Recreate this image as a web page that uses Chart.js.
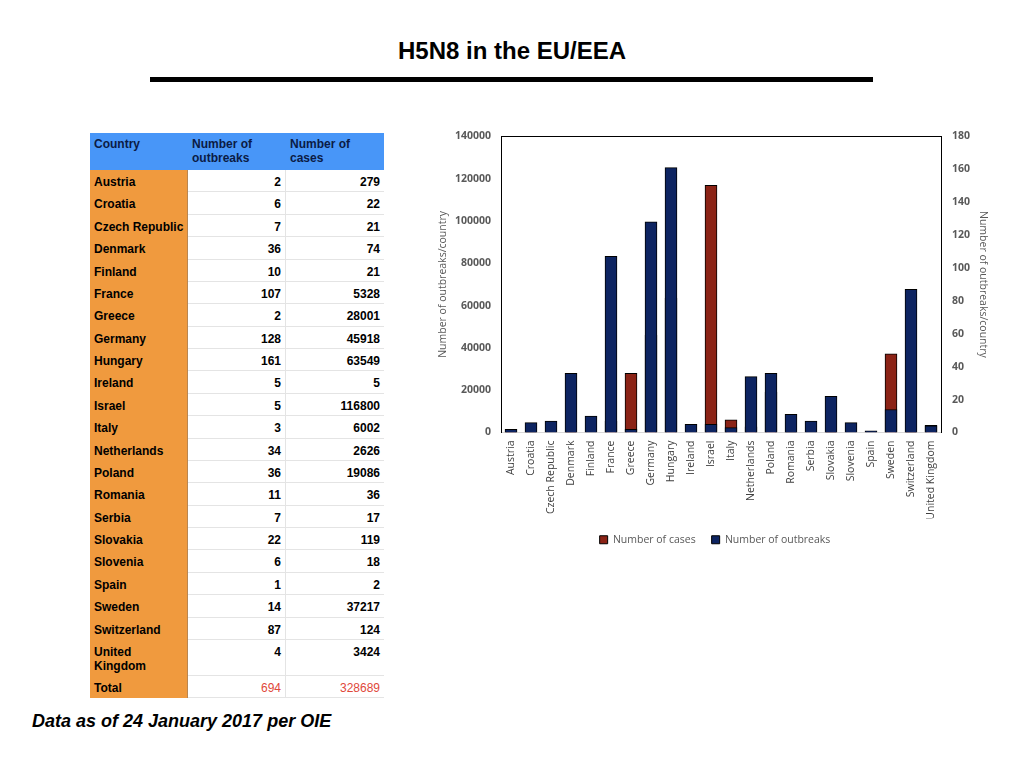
<!DOCTYPE html>
<html>
<head>
<meta charset="utf-8">
<script src="https://cdn.jsdelivr.net/npm/chart.js@4"></script>
<style>
  body { margin: 0; width: 1024px; height: 768px; background: #fff; position: relative; overflow: hidden; font-family: "Liberation Sans", Arial, sans-serif; }
  #title { position: absolute; left: 0; width: 1024px; top: 37px; text-align: center; font-weight: bold; font-size: 24px; color: #000; }
  #rule { position: absolute; left: 150px; top: 77px; width: 723px; height: 4.5px; background: #000; }
  #tbl { position: absolute; left: 90px; top: 133px; display: grid; grid-template-columns: 98px 98px 98px;
         grid-template-rows: 37px repeat(21, 22.38px) 36px 22px; font-size: 12px; line-height: 14px; font-weight: bold; }
  #tbl div { box-sizing: border-box; padding: 5px 4px 0 4px; overflow: hidden; }
  #tbl .c { background: #f09a3e; color: #000; border-right: 1px solid #b98650; padding-right: 2px; }
  #tbl .n { background: #fff; text-align: right; border-bottom: 1px solid #e4e4e4; }
  #tbl .m { border-right: 1px solid #e4e4e4; }
  #tbl .h { background: #4896f8; color: #0b1b45; padding-top: 4px; }
  #tbl .t { color: #e0483a; font-weight: normal; }
  #chartBox { position: absolute; left: 425px; top: 119px; width: 590px; height: 436px; }
  #note { position: absolute; left: 32px; top: 711px; font-size: 18px; font-weight: bold; font-style: italic; color: #000; }
</style>
</head>
<body>
<div id="title">H5N8 in the EU/EEA</div>
<div id="rule"></div>
<div id="tbl">
  <div class="h">Country</div><div class="h">Number of outbreaks</div><div class="h">Number of cases</div>
</div>
<div id="chartBox"><canvas id="chart"></canvas></div>
<div id="note">Data as of 24 January 2017 per OIE</div>
<script>
const countries = ['Austria', 'Croatia', 'Czech Republic', 'Denmark', 'Finland', 'France', 'Greece',
  'Germany', 'Hungary', 'Ireland', 'Israel', 'Italy', 'Netherlands', 'Poland', 'Romania', 'Serbia',
  'Slovakia', 'Slovenia', 'Spain', 'Sweden', 'Switzerland', 'United Kingdom'];
const outbreaks = [2, 6, 7, 36, 10, 107, 2, 128, 161, 5, 5, 3, 34, 36, 11, 7, 22, 6, 1, 14, 87, 4];
const cases = [279, 22, 21, 74, 21, 5328, 28001, 45918, 63549, 5, 116800, 6002, 2626, 19086, 36, 17,
  119, 18, 2, 37217, 124, 3424];
const totalOutbreaks = 694;
const totalCases = 328689;
const casesTicks = [0, 20000, 40000, 60000, 80000, 100000, 120000, 140000];
const outbreakTicks = [0, 20, 40, 60, 80, 100, 120, 140, 160, 180];

// table on the left
const tbl = document.getElementById('tbl');
const addRow = (name, o, c, extra = '') => {
  tbl.insertAdjacentHTML('beforeend',
    `<div class="c">${name}</div><div class="n m ${extra}">${o}</div><div class="n ${extra}">${c}</div>`);
};
countries.forEach((name, i) => addRow(name, outbreaks[i], cases[i]));
addRow('Total', totalOutbreaks, totalCases, 't');

const tickFont = { family: '"Open Sans", sans-serif', size: 10.5, weight: 'bold' };
const labelFont = { family: '"Open Sans", sans-serif', size: 10.5 };
const grey = '#595959';

const config = {
  type: 'bar',
  data: {
    labels: countries,
    datasets: [
      {
        label: 'Number of cases',
        data: cases,
        yAxisID: 'y',
        backgroundColor: '#8b2316',
        borderColor: '#000',
        borderWidth: 1,
        order: 2
      },
      {
        label: 'Number of outbreaks',
        data: outbreaks,
        yAxisID: 'y1',
        backgroundColor: '#0d2461',
        borderColor: '#000',
        borderWidth: 1,
        order: 1
      }
    ]
  },
  options: {
    responsive: true,
    maintainAspectRatio: false,
    animation: false,
    devicePixelRatio: 1,
    layout: { padding: { top: 6, left: 12, right: 22, bottom: 0 } },
    datasets: {
      // 440px plot / 22 countries = 20px slots, so 12px bars sit on whole pixels
      bar: { grouped: false, barThickness: 12 }
    },
    plugins: {
      tooltip: { enabled: false },
      legend: {
        position: 'bottom',
        labels: {
          font: labelFont,
          color: grey,
          boxWidth: 8,
          boxHeight: 8,
          padding: 16,
          sort: (a, b) => a.datasetIndex - b.datasetIndex
        }
      }
    },
    scales: {
      x: {
        grid: { display: false, drawTicks: false },
        border: { display: true, color: '#d9d9d9', width: 1 },
        ticks: { font: labelFont, color: '#404040', minRotation: 90, maxRotation: 90, padding: 8, autoSkip: false },
        afterFit: (s) => { s.height = 86; }
      },
      xTop: {
        type: 'category',
        position: 'top',
        grid: { display: false, drawTicks: false },
        border: { display: true, color: '#000', width: 1 },
        ticks: { display: false },
        afterFit: (s) => { s.height = 0; }
      },
      y: {
        position: 'left',
        min: 0,
        max: casesTicks[casesTicks.length - 1],
        afterBuildTicks: (s) => { s.ticks = casesTicks.map((v) => ({ value: v })); },
        grid: { display: false, drawTicks: false },
        border: { display: true, color: '#000', width: 1 },
        ticks: { font: tickFont, color: grey, padding: 10, callback: (v) => String(v) },
        title: { display: true, text: 'Number of outbreaks/country', font: labelFont, color: grey, padding: { top: 0, bottom: 4 } },
        afterFit: (s) => { s.width = 64; }
      },
      y1: {
        position: 'right',
        min: 0,
        max: outbreakTicks[outbreakTicks.length - 1],
        afterBuildTicks: (s) => { s.ticks = outbreakTicks.map((v) => ({ value: v })); },
        grid: { display: false, drawTicks: false },
        border: { display: true, color: '#000', width: 1 },
        ticks: { font: tickFont, color: grey, padding: 11, callback: (v) => String(v) },
        title: { display: true, text: 'Number of outbreaks/country', font: labelFont, color: grey, padding: { top: 4, bottom: 0 } },
        afterFit: (s) => { s.width = 52; }
      }
    }
  }
};

new Chart(document.getElementById('chart').getContext('2d'), config);
</script>
</body>
</html>
